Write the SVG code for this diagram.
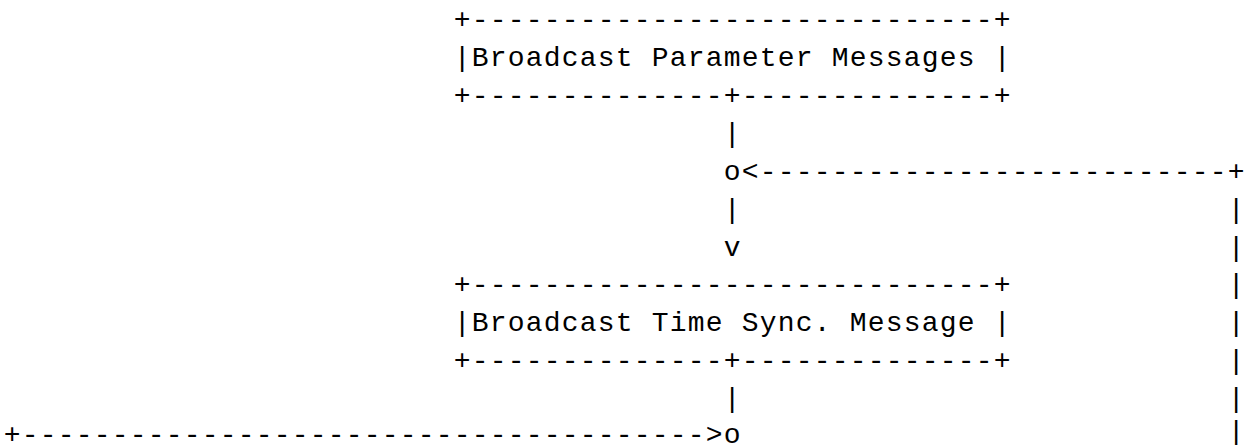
<svg xmlns="http://www.w3.org/2000/svg" width="1252" height="445" viewBox="0 0 1252 445">
<style>
text{font-family:"Liberation Mono","DejaVu Sans Mono",monospace;font-size:28px;letter-spacing:1.2px;fill:#000;white-space:pre}
</style>
<rect width="1252" height="445" fill="#fff"/>
<g id="node-broadcast-parameter-messages">
<text x="453.7" y="28.1" xml:space="preserve">+-----------------------------+</text>
<text x="453.7" y="66" xml:space="preserve">|Broadcast Parameter Messages |</text>
<text x="453.7" y="103.9" xml:space="preserve">+--------------+--------------+</text>
</g>
<g id="node-broadcast-time-sync-message">
<text x="453.7" y="293.4" xml:space="preserve">+-----------------------------+</text>
<text x="453.7" y="331.3" xml:space="preserve">|Broadcast Time Sync. Message |</text>
<text x="453.7" y="369.2" xml:space="preserve">+--------------+--------------+</text>
</g>
<g id="connectors">
<text x="723.7" y="141.8">|</text>
<text x="723.7" y="179.7" xml:space="preserve">o&lt;--------------------------+</text>
<text x="723.7" y="217.6">|</text>
<text x="723.7" y="255.5">v</text>
<text x="723.7" y="407.1">|</text>
<text x="3.7" y="443" xml:space="preserve">+--------------------------------------&gt;o</text>
<text x="1227.7" y="217.6">|</text>
<text x="1227.7" y="255.5">|</text>
<text x="1227.7" y="293.4">|</text>
<text x="1227.7" y="331.3">|</text>
<text x="1227.7" y="369.2">|</text>
<text x="1227.7" y="407.1">|</text>
<text x="1227.7" y="440">|</text>
</g>
</svg>
